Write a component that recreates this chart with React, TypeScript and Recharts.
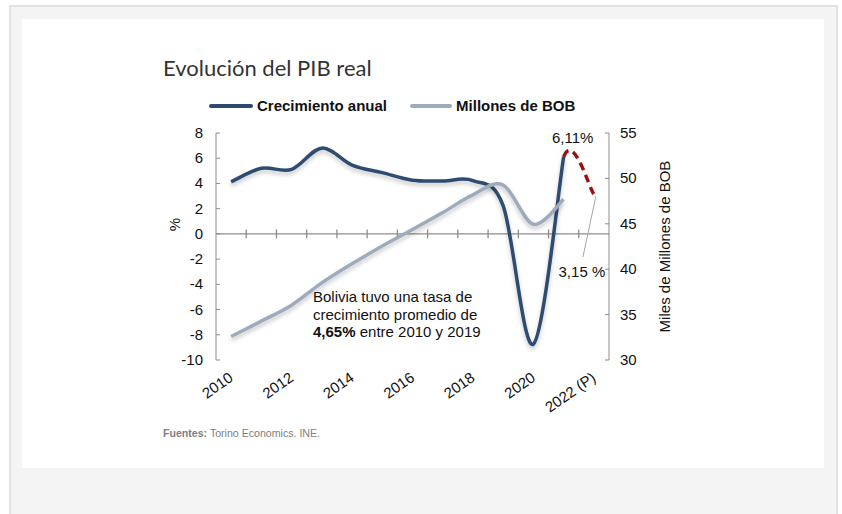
import React from 'react'
import { LineChart, Line, XAxis, YAxis, ReferenceLine, ReferenceDot } from 'recharts'

const years = ['2010', '2011', '2012', '2013', '2014', '2015', '2016', '2017', '2018', '2019', '2020', '2021', '2022 (P)']
// crecimiento anual (%)
const growth = [4.13, 5.2, 5.12, 6.8, 5.46, 4.86, 4.26, 4.2, 4.22, 2.22, -8.74, 6.11, null]
// PIB real, miles de millones de BOB
const gdp = [32.59, 34.28, 36.04, 38.49, 40.59, 42.56, 44.37, 46.24, 48.19, 49.26, 44.95, 47.69, null]
// tramo proyectado (2020 solo sirve para la tangente)
const projection = [null, null, null, null, null, null, null, null, null, null, -8.74, 6.11, 3.15]

const leftTicks = [-10, -8, -6, -4, -2, 0, 2, 4, 6, 8]
const rightTicks = [30, 35, 40, 45, 50, 55]

const data = years.map((year, i) => ({ year, growth: growth[i], gdp: gdp[i], proj: projection[i] }))

const FONT = '"Liberation Sans", Arial, sans-serif'
const FS = 15
const DARK = '#2e4b6f'
const GRAY = '#9eabbc'
const RED = '#9b1010'
const AXIS = '#8c8c8c'

// suavizado tipo Excel (Catmull-Rom); skipFirst no dibuja el primer tramo
const smooth = (skipFirst: boolean) => (context: any) => {
  let pts: number[][] = []
  return {
    areaStart() {},
    areaEnd() {},
    lineStart() {
      pts = []
    },
    point(x: number, y: number) {
      pts.push([+x, +y])
    },
    lineEnd() {
      const n = pts.length
      if (!n) return
      const start = skipFirst && n > 2 ? 1 : 0
      context.moveTo(pts[start][0], pts[start][1])
      for (let i = start; i < n - 1; i++) {
        const p0 = pts[i - 1] || pts[i]
        const p1 = pts[i]
        const p2 = pts[i + 1]
        const p3 = pts[i + 2] || p2
        context.bezierCurveTo(
          p1[0] + (p2[0] - p0[0]) / 6,
          p1[1] + (p2[1] - p0[1]) / 6,
          p2[0] - (p3[0] - p1[0]) / 6,
          p2[1] - (p3[1] - p1[1]) / 6,
          p2[0],
          p2[1]
        )
      }
    },
  }
}

const XTick = ({ x, y, payload }: any) => (
  <text
    x={x + 3}
    y={y + 12}
    transform={`rotate(-35 ${x + 3} ${y + 12})`}
    textAnchor="end"
    fontSize={FS}
    fontFamily={FONT}
    fill="#111"
  >
    {payload.value}
  </text>
)

const LeftTick = ({ x, y, payload }: any) => (
  <g>
    <line x1={x + 13} x2={x + 17} y1={y} y2={y} stroke={AXIS} />
    <text x={x} y={y} dy={5} textAnchor="end" fontSize={FS} fontFamily={FONT} fill="#111">
      {payload.value}
    </text>
  </g>
)

const RightTick = ({ x, y, payload }: any) => (
  <g>
    <line x1={x - 11} x2={x - 15} y1={y} y2={y} stroke={AXIS} />
    <text x={x} y={y} dy={5} textAnchor="start" fontSize={FS} fontFamily={FONT} fill="#111">
      {payload.value}
    </text>
  </g>
)

export default function App() {
  return (
    <div
      style={{
        position: 'absolute',
        left: 0,
        top: 0,
        width: 842,
        height: 514,
        overflow: 'hidden',
        background: '#fff',
        fontFamily: FONT,
      }}
    >
      <div
        style={{
          position: 'absolute',
          left: 9,
          top: 5,
          width: 825,
          height: 600,
          border: '2px solid #e2e2e2',
          background: '#f4f4f4',
        }}
      />
      <div style={{ position: 'absolute', left: 22, top: 19, width: 802, height: 449, background: '#fff' }} />

      <div
        style={{
          position: 'absolute',
          left: 163,
          top: 54,
          fontSize: 22,
          fontFamily: 'Lato, "Open Sans", sans-serif',
          color: '#333',
          whiteSpace: 'nowrap',
        }}
      >
        Evolución del PIB real
      </div>

      {/* leyenda */}
      <div
        style={{
          position: 'absolute',
          left: 209,
          top: 97,
          display: 'flex',
          alignItems: 'center',
          fontSize: FS,
          fontWeight: 'bold',
          color: '#111',
          whiteSpace: 'nowrap',
        }}
      >
        <span style={{ display: 'inline-block', width: 44, height: 4, borderRadius: 2, background: DARK, marginRight: 4 }} />
        <span style={{ marginRight: 23 }}>Crecimiento anual</span>
        <span style={{ display: 'inline-block', width: 42, height: 4, borderRadius: 2, background: GRAY, marginRight: 4 }} />
        <span>Millones de BOB</span>
      </div>

      <div style={{ position: 'absolute', left: 150, top: 120 }}>
        <LineChart width={560} height={320} data={data} margin={{ top: 13, right: 61, bottom: 20, left: 0 }}>
          <defs>
            <filter id="shadow" x="-10%" y="-20%" width="120%" height="140%">
              <feDropShadow dx="0" dy="3" stdDeviation="2" floodColor="#000" floodOpacity="0.22" />
            </filter>
          </defs>
          <XAxis
            dataKey="year"
            scale="band"
            interval={1}
            axisLine={false}
            tickLine={false}
            tickSize={0}
            tickMargin={8}
            height={60}
            tick={<XTick />}
          />
          <YAxis
            yAxisId="left"
            domain={[-10, 8]}
            ticks={leftTicks}
            width={66}
            stroke={AXIS}
            tickLine={false}
            tickSize={0}
            tickMargin={13}
            tick={<LeftTick />}
            label={{
              content: ({ viewBox }: any) => (
                <text
                  x={viewBox.x + 30}
                  y={viewBox.y + viewBox.height / 2 - 22}
                  transform={`rotate(-90 ${viewBox.x + 30} ${viewBox.y + viewBox.height / 2 - 22})`}
                  textAnchor="middle"
                  fontSize={FS}
                  fontFamily={FONT}
                  fill="#111"
                >
                  %
                </text>
              ),
            }}
          />
          <YAxis
            yAxisId="right"
            orientation="right"
            domain={[30, 55]}
            ticks={rightTicks}
            width={40}
            stroke={AXIS}
            tickLine={false}
            tickSize={0}
            tickMargin={11}
            tick={<RightTick />}
            label={{
              content: ({ viewBox }: any) => (
                <text
                  x={viewBox.x + viewBox.width + 21}
                  y={viewBox.y + viewBox.height / 2}
                  transform={`rotate(-90 ${viewBox.x + viewBox.width + 21} ${viewBox.y + viewBox.height / 2})`}
                  textAnchor="middle"
                  fontSize={FS}
                  fontFamily={FONT}
                  fill="#111"
                >
                  Miles de Millones de BOB
                </text>
              ),
            }}
          />
          <ReferenceLine yAxisId="left" y={0} stroke={AXIS} strokeWidth={1.3} />
          {years.slice(0, -1).map((yr) => (
            <ReferenceLine
              key={yr}
              yAxisId="left"
              position="end"
              segment={[
                { x: yr, y: 0.35 },
                { x: yr, y: -0.35 },
              ]}
              stroke={AXIS}
              strokeWidth={1.3}
            />
          ))}
          <Line
            yAxisId="left"
            dataKey="growth"
            type={smooth(false) as any}
            stroke={DARK}
            strokeWidth={3.5}
            dot={false}
            filter="url(#shadow)"
            isAnimationActive={false}
          />
          <Line
            yAxisId="right"
            dataKey="gdp"
            type={smooth(false) as any}
            stroke={GRAY}
            strokeWidth={3.5}
            dot={false}
            filter="url(#shadow)"
            isAnimationActive={false}
          />
          <Line
            yAxisId="left"
            dataKey="proj"
            type={smooth(true) as any}
            stroke={RED}
            strokeWidth={3.5}
            strokeDasharray="8 5"
            dot={false}
            isAnimationActive={false}
          />
          <ReferenceDot
            yAxisId="left"
            x="2021"
            y={6.11}
            r={0}
            shape={(p: any) => (
              <text x={p.cx + 9} y={p.cy - 14} textAnchor="middle" fontSize={FS} fontFamily={FONT} fill="#111">
                6,11%
              </text>
            )}
          />
          <ReferenceDot
            yAxisId="left"
            x="2022 (P)"
            y={3.15}
            r={0}
            shape={(p: any) => (
              <g>
                <line x1={p.cx + 2} y1={p.cy + 2} x2={p.cx - 11} y2={p.cy + 63} stroke="#a6a6a6" strokeWidth={1} />
                <text x={p.cx - 12} y={p.cy + 83} textAnchor="middle" fontSize={FS} fontFamily={FONT} fill="#111">
                  3,15 %
                </text>
              </g>
            )}
          />
        </LineChart>
      </div>

      <div
        style={{
          position: 'absolute',
          left: 313,
          top: 288,
          fontSize: FS,
          lineHeight: '17.5px',
          color: '#111',
          whiteSpace: 'nowrap',
        }}
      >
        Bolivia tuvo una tasa de
        <br />
        crecimiento promedio de
        <br />
        <b>4,65%</b> entre 2010 y 2019
      </div>

      <div style={{ position: 'absolute', left: 163, top: 427, fontSize: 10.6, color: '#808080', whiteSpace: 'nowrap' }}>
        <b>Fuentes:</b> Torino Economics. INE.
      </div>
    </div>
  )
}
